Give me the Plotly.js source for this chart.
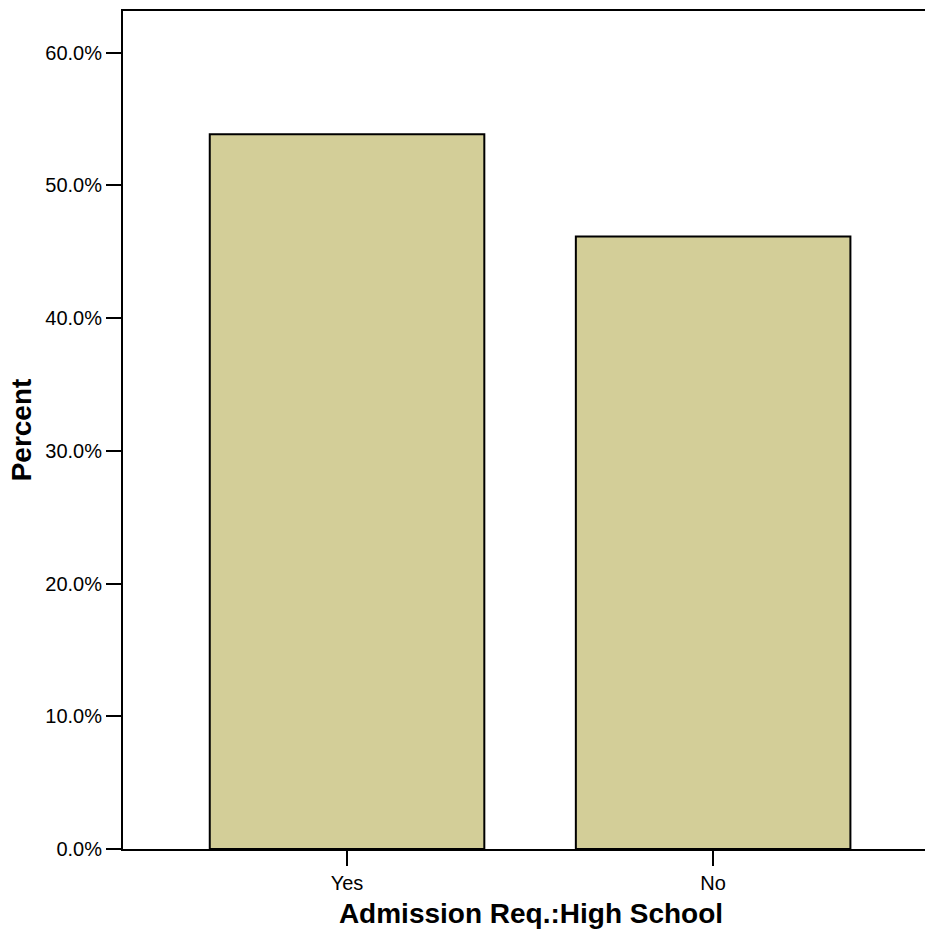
<!DOCTYPE html>
<html>
<head>
<meta charset="utf-8">
<script src="https://cdn.plot.ly/plotly-3.0.1.min.js"></script>
<style>html,body{margin:0;padding:0;background:#fff;overflow:hidden;width:925px;height:931px;}#chart{width:939px;height:931px;}</style>
</head>
<body>
<div id="chart"></div>
<script>
const categories = ["Yes", "No"];
const percentValues = [53.85, 46.15];
const yTickValues = [0, 10, 20, 30, 40, 50, 60];
const yTickLabels = ["0.0%", "10.0%", "20.0%", "30.0%", "40.0%", "50.0%", "60.0%"];

const trace = {
  type: "bar",
  x: categories,
  y: percentValues,
  width: 0.75,
  marker: { color: "#d3ce98", line: { color: "#000", width: 2 } },
  hoverinfo: "none"
};

const layout = {
  width: 939,
  height: 931,
  margin: { l: 123, r: 0, t: 11, b: 82 },
  paper_bgcolor: "#fff",
  plot_bgcolor: "#fff",
  showlegend: false,
  font: { family: "Liberation Sans, Arial, sans-serif", color: "#000" },
  xaxis: {
    type: "category",
    range: [-0.612, 1.617],
    showline: true, linecolor: "#000", linewidth: 2, mirror: true,
    ticks: "outside", ticklen: 15, tickwidth: 2, tickcolor: "#000",
    showgrid: false, zeroline: false,
    tickfont: { size: 20, family: "Liberation Sans, Arial, sans-serif" },
    automargin: false,
    title: { text: "Admission Req.:High School", font: { size: 28, family: "Liberation Sans, Arial, sans-serif", weight: "bold" }, standoff: 10 }
  },
  yaxis: {
    range: [0, 63.14],
    tickvals: yTickValues, ticktext: yTickLabels,
    showline: true, linecolor: "#000", linewidth: 2, mirror: false,
    ticks: "outside", ticklen: 15, tickwidth: 2, tickcolor: "#000",
    showgrid: false, zeroline: false,
    tickfont: { size: 20, family: "Liberation Sans, Arial, sans-serif" },
    automargin: false,
    title: { text: "Percent", font: { size: 28, family: "Liberation Sans, Arial, sans-serif", weight: "bold" }, standoff: 5 }
  }
};

Plotly.newPlot("chart", [trace], layout, { displayModeBar: false, staticPlot: true });
</script>
</body>
</html>
